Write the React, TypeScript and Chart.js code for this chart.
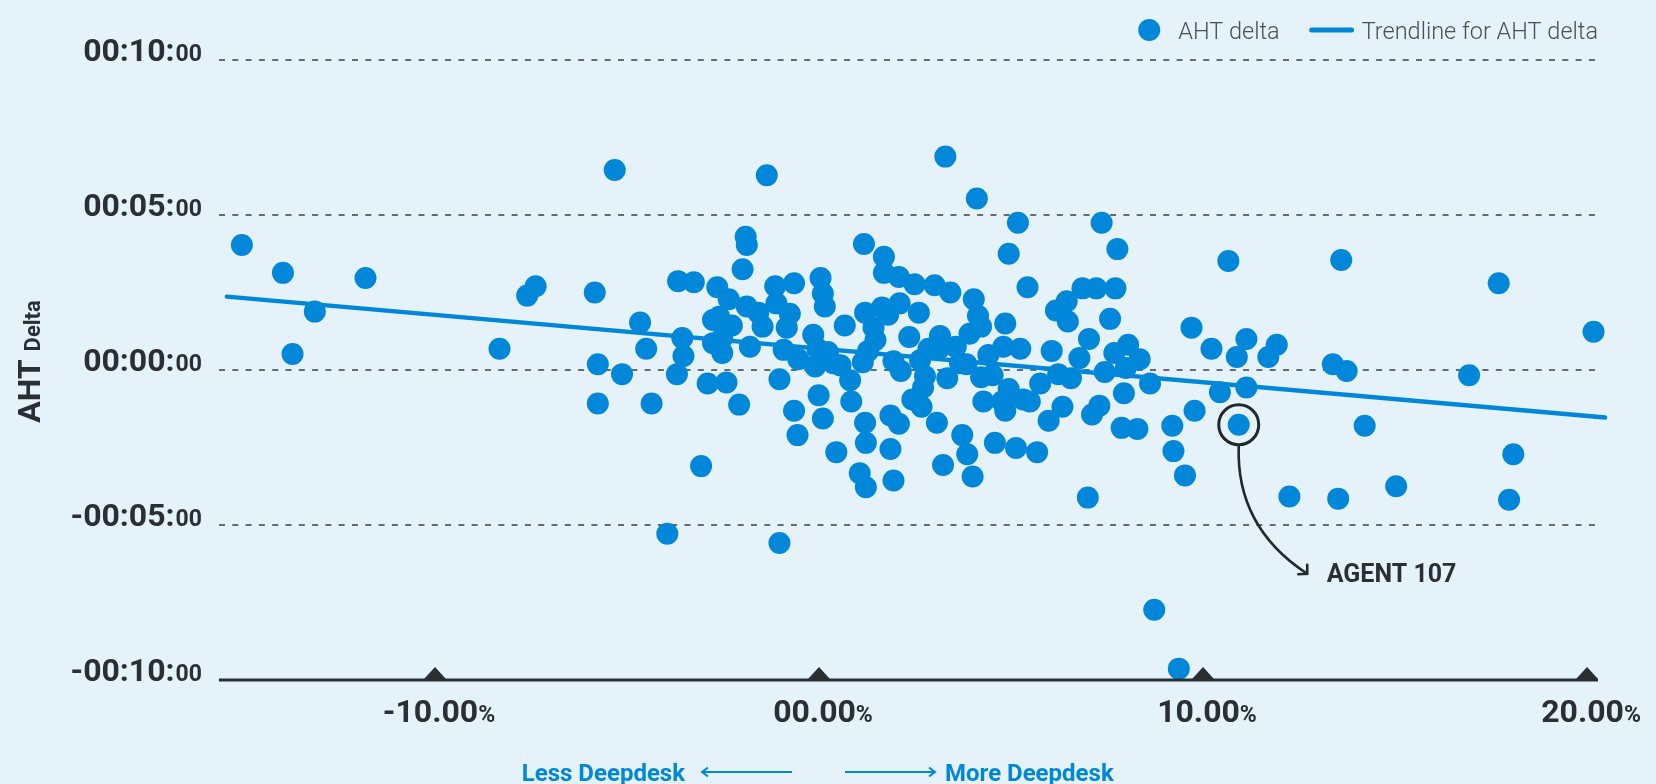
import React, { useEffect, useRef } from "react";
import { Chart, registerables } from "chart.js";

Chart.register(...registerables);

// ---- data (x: Deepdesk usage delta in %, y: AHT delta in seconds) ----
const deltaPct = [
  -15.03, -13.96, -13.71, -13.13, -11.81, -8.32, -7.6, -7.38, -5.84, -5.76,
  -5.76, -5.32, -5.13, -4.66, -4.5, -4.36, -3.95, -3.7, -3.67, -3.56,
  -3.53, -3.26, -3.07, -2.9, -2.76, -2.76, -2.65, -2.6, -2.52, -2.52,
  -2.41, -2.35, -2.27, -2.08, -1.99, -1.91, -1.88, -1.88, -1.8, -1.58,
  -1.47, -1.36, -1.14, -1.11, -1.03, -1.03, -0.92, -0.84, -0.76, -0.65,
  -0.65, -0.56, -0.54, -0.15, -0.04, -0.01, 0.04, 0.1, 0.15, 0.1,
  0.23, 0.45, 0.56, 0.67, 0.84, 1.06, 1.14, 1.17, 1.2, 1.2,
  1.22, 1.22, 1.28, 1.42, 1.47, 1.64, 1.69, 1.69, 1.8, 1.86,
  1.86, 1.94, 1.94, 2.08, 2.08, 2.1, 2.13, 2.35, 2.43, 2.49,
  2.6, 2.63, 2.71, 2.76, 2.85, 3.01, 3.07, 3.12, 3.15, 3.23,
  3.29, 3.34, 3.42, 3.56, 3.73, 3.86, 3.84, 3.92, 4.0, 4.03,
  4.11, 4.14, 4.22, 4.28, 4.41, 4.52, 4.58, 4.77, 4.85, 4.85,
  4.94, 4.94, 5.13, 5.18, 5.24, 5.32, 5.43, 5.68, 5.98, 6.06,
  6.17, 6.23, 6.34, 6.45, 6.48, 6.56, 6.78, 6.86, 7.0, 7.03,
  7.11, 7.22, 7.3, 7.36, 7.44, 7.58, 7.69, 7.72, 7.77, 7.88,
  7.94, 7.99, 8.05, 8.29, 8.35, 8.62, 8.73, 9.2, 9.23, 9.37,
  9.53, 9.7, 9.78, 10.22, 10.44, 10.66, 10.88, 11.13, 11.13, 11.7,
  11.92, 12.25, 13.38, 13.52, 13.6, 13.74, 14.21, 15.03, 16.93, 17.7,
  17.97, 18.08, 20.17,
  0.37, 0.81, -0.1, 2.67, 5.49, 5.76, 4.22, 3.67, 4.8,
];

const ahtDeltaSec = [
  242, 188, 31, 113, 178, 41, 144, 162, 150, 11,
  -65, 387, -8, 92, 41, -65, -317, -8, 172, 62,
  27, 170, -186, -26, 97, 52, 160, 103, 62, 33,
  -24, 137, 86, -67, 195, 258, 242, 123, 45, 111,
  84, 377, 162, 129, -18, -335, 39, 82, 109, 168,
  -79, -126, 21, 68, 41, -49, 178, 148, 123, -94,
  35, -159, 9, 86, -61, -200, 15, 244, 111, -102,
  -141, -227, 37, 82, 58, 121, 219, 188, 107, -88,
  -153, 17, -214, 180, -104, 129, -2, 64, -57, 166,
  111, 19, -34, -12, 41, 164, -102, 41, 66, -184,
  413, -16, 150, 45, -126, -163, 11, 70, -206, 137,
  332, 105, 84, -61, 29, -10, -141, -61, 90, -79,
  225, -37, -151, 285, 41, -57, 160, -159, -98, 37,
  115, -8, -71, 133, 94, -16, 23, 158, -247, 60,
  -86, 158, -69, 285, -4, 99, 33, 158, 234, -112,
  -45, 4, 49, -114, 21, -26, -464, -108, -157, -578,
  -204, 82, -79, 41, -43, 211, 25, -34, 60, 25,
  49, -245, 11, -249, 213, -2, -108, -225, -10, 168,
  -251, -163, 74,
  13, -20, 7, -71, -61, -26, -14, 13, 45,
];

// highlighted agent
const highlightLabel = "AGENT 107";
const highlightPct = 10.93;
const highlightSec = -106;

// trendline end points
const trendPct = [-15.42, 20.47];
const trendSec = [142, -92];

// ticks / labels
const xTickValues = [-10, 0, 10, 20];
const yTickValues = [600, 300, 0, -300, -600];
const seriesLabel = "AHT delta";
const trendLabel = "Trendline for AHT delta";
const yTitleMain = "AHT";
const yTitleSub = "Delta";
const lessLabel = "Less Deepdesk";
const moreLabel = "More Deepdesk";

const BG = "#e5f2fa";
const BLUE = "#0087da";
const INK = "#2b2f33";
const LEGEND_INK = "#4a4f55";
const FONT = "Roboto, 'Noto Sans', sans-serif";

function fmtPct(v: number) {
  const s = Math.abs(v).toFixed(2).padStart(5, "0");
  return (v < 0 ? "-" : "") + s;
}

function fmtTime(sec: number): [string, string] {
  const sign = sec < 0 ? "-" : "";
  const a = Math.abs(sec);
  const m = Math.floor(a / 60);
  const s = a % 60;
  return [`${sign}00:${String(m).padStart(2, "0")}:`, String(s).padStart(2, "0")];
}

const decorPlugin = {
  id: "decor",
  beforeDraw(chart: any) {
    const { ctx, width, height } = chart;
    ctx.save();
    ctx.fillStyle = BG;
    ctx.fillRect(0, 0, width, height);
    ctx.restore();
  },
  beforeDatasetsDraw(chart: any) {
    const { ctx, chartArea, scales } = chart;
    const xs = scales.x;
    const ys = scales.y;
    ctx.save();

    // dashed horizontal grid
    ctx.strokeStyle = "#3a3f44";
    ctx.lineWidth = 1.5;
    ctx.setLineDash([6, 7.3]);
    yTickValues.forEach((v) => {
      if (v <= ys.min) return;
      const py = Math.round(ys.getPixelForValue(v));
      ctx.beginPath();
      ctx.moveTo(chartArea.left, py);
      ctx.lineTo(chartArea.right, py);
      ctx.stroke();
    });
    ctx.setLineDash([]);

    // y tick labels
    ctx.fillStyle = INK;
    ctx.textBaseline = "alphabetic";
    ctx.textAlign = "right";
    const right = chartArea.left - 17;
    yTickValues.forEach((v) => {
      const py = ys.getPixelForValue(v) + 1;
      const [big, small] = fmtTime(v);
      ctx.font = `bold 23px ${FONT}`;
      ctx.fillText(small, right, py);
      const sw = ctx.measureText(small).width;
      ctx.font = `bold 32px ${FONT}`;
      ctx.fillText(big, right - sw - 1, py);
    });

    // x tick labels
    ctx.textAlign = "left";
    xTickValues.forEach((v) => {
      const px = xs.getPixelForValue(v);
      const big = fmtPct(v);
      ctx.font = `bold 32px ${FONT}`;
      const bw = ctx.measureText(big).width;
      ctx.font = `bold 23px ${FONT}`;
      const sw = ctx.measureText("%").width;
      const start = px + 4 - (bw + sw) / 2;
      const by = chartArea.bottom + 42;
      ctx.font = `bold 32px ${FONT}`;
      ctx.fillText(big, start, by);
      ctx.font = `bold 23px ${FONT}`;
      ctx.fillText("%", start + bw, by);
    });

    // y title (rotated)
    ctx.save();
    ctx.translate(chartArea.left - 179, ys.getPixelForValue(0) - 8.5);
    ctx.rotate(-Math.PI / 2);
    ctx.font = `bold 32px ${FONT}`;
    const w1 = ctx.measureText(yTitleMain + " ").width;
    ctx.font = `bold 22px ${FONT}`;
    const w2 = ctx.measureText(yTitleSub).width;
    const st = -(w1 + w2) / 2;
    ctx.font = `bold 32px ${FONT}`;
    ctx.fillText(yTitleMain + " ", st, 0);
    ctx.font = `bold 22px ${FONT}`;
    ctx.fillText(yTitleSub, st + w1, 0);
    ctx.restore();

    ctx.restore();
  },
  afterDatasetsDraw(chart: any) {
    const { ctx, chartArea, scales } = chart;
    const xs = scales.x;
    const ys = scales.y;
    ctx.save();

    // x axis line with triangle markers
    ctx.fillStyle = "#2a2f33";
    const by = chartArea.bottom;
    ctx.fillRect(chartArea.left, by - 1.5, chartArea.right - chartArea.left, 3);
    xTickValues.forEach((v) => {
      const px = xs.getPixelForValue(v);
      ctx.beginPath();
      ctx.moveTo(px - 11, by - 1);
      ctx.lineTo(px, by - 13);
      ctx.lineTo(px + 11, by - 1);
      ctx.closePath();
      ctx.fill();
    });

    // highlight annotation
    const ax = xs.getPixelForValue(highlightPct);
    const ay = ys.getPixelForValue(highlightSec);
    ctx.strokeStyle = "#23282c";
    ctx.lineWidth = 3;
    ctx.beginPath();
    ctx.arc(ax, ay, 20, 0, Math.PI * 2);
    ctx.stroke();
    ctx.lineWidth = 2.6;
    ctx.lineCap = "round";
    ctx.beginPath();
    ctx.moveTo(ax, ay + 21.5);
    ctx.bezierCurveTo(ax - 2, ay + 80, ax + 25, ay + 120, ax + 67, ay + 148);
    ctx.stroke();
    ctx.beginPath();
    ctx.moveTo(ax + 59.5, ay + 149.5);
    ctx.lineTo(ax + 68.5, ay + 149);
    ctx.lineTo(ax + 68.5, ay + 140);
    ctx.stroke();
    ctx.fillStyle = INK;
    ctx.font = `bold 25px ${FONT}`;
    ctx.textAlign = "left";
    ctx.textBaseline = "alphabetic";
    ctx.fillText(highlightLabel, ax + 88, ay + 157);

    ctx.restore();
  },
  afterDraw(chart: any) {
    const { ctx, chartArea, scales } = chart;
    const xs = scales.x;
    ctx.save();

    // legend (right aligned to plot edge)
    ctx.font = `300 23.5px ${FONT}`;
    ctx.textBaseline = "alphabetic";
    ctx.textAlign = "left";
    ctx.fillStyle = LEGEND_INK;
    const tw2 = ctx.measureText(trendLabel).width;
    const tw1 = ctx.measureText(seriesLabel).width;
    const ly = 30;
    const t2x = chartArea.right - tw2;
    const lineR = t2x - 10;
    const lineL = lineR - 40;
    const t1x = lineL - 32 - tw1;
    const dotX = t1x - 29;
    ctx.fillText(trendLabel, t2x, ly + 8.5);
    ctx.fillText(seriesLabel, t1x, ly + 8.5);
    ctx.strokeStyle = BLUE;
    ctx.lineWidth = 5;
    ctx.lineCap = "round";
    ctx.beginPath();
    ctx.moveTo(lineL, ly);
    ctx.lineTo(lineR, ly);
    ctx.stroke();
    ctx.fillStyle = BLUE;
    ctx.beginPath();
    ctx.arc(dotX, ly, 11, 0, Math.PI * 2);
    ctx.fill();

    // footnote under the x axis
    const x0 = xs.getPixelForValue(0);
    const fy = 772;
    ctx.fillStyle = BLUE;
    ctx.strokeStyle = BLUE;
    ctx.lineWidth = 2;
    ctx.lineCap = "butt";
    ctx.font = `bold 24px ${FONT}`;
    ctx.textAlign = "right";
    ctx.fillText(lessLabel, x0 - 134, fy + 8.5);
    ctx.textAlign = "left";
    ctx.fillText(moreLabel, x0 + 126, fy + 8.5);
    // left arrow
    ctx.beginPath();
    ctx.moveTo(x0 - 117, fy);
    ctx.lineTo(x0 - 27, fy);
    ctx.moveTo(x0 - 111, fy - 4.5);
    ctx.lineTo(x0 - 117, fy);
    ctx.lineTo(x0 - 111, fy + 4.5);
    ctx.stroke();
    // right arrow
    ctx.beginPath();
    ctx.moveTo(x0 + 26, fy);
    ctx.lineTo(x0 + 116, fy);
    ctx.moveTo(x0 + 110, fy - 4.5);
    ctx.lineTo(x0 + 116, fy);
    ctx.lineTo(x0 + 110, fy + 4.5);
    ctx.stroke();

    ctx.restore();
  },
};

export default function App() {
  const ref = useRef<HTMLCanvasElement>(null);

  useEffect(() => {
    if (!ref.current) return;
    const points = deltaPct.map((x, i) => ({ x, y: ahtDeltaSec[i] }));
    points.push({ x: highlightPct, y: highlightSec });
    const trend = trendPct.map((x, i) => ({ x, y: trendSec[i] }));

    const chart = new Chart(ref.current, {
      type: "scatter",
      data: {
        datasets: [
          {
            label: seriesLabel,
            data: points,
            backgroundColor: BLUE,
            borderColor: BLUE,
            borderWidth: 0,
            pointRadius: 11,
            pointHoverRadius: 11,
            clip: false,
          } as any,
          {
            label: trendLabel,
            data: trend,
            showLine: true,
            borderColor: BLUE,
            backgroundColor: BLUE,
            borderWidth: 4.5,
            borderCapStyle: "round",
            pointRadius: 0,
            pointHoverRadius: 0,
            clip: false,
          } as any,
        ],
      },
      options: {
        animation: false,
        responsive: false,
        devicePixelRatio: 1,
        layout: { padding: { left: 219, right: 58, top: 60, bottom: 104 } },
        scales: {
          x: { type: "linear", min: -15.625, max: 20.286, display: false },
          y: { type: "linear", min: -600, max: 600, display: false },
        },
        plugins: {
          legend: { display: false },
          tooltip: { enabled: false },
        },
      },
      plugins: [decorPlugin],
    });
    return () => chart.destroy();
  }, []);

  return (
    <div
      style={{
        position: "fixed",
        left: 0,
        top: 0,
        width: 1656,
        height: 784,
        background: BG,
      }}
    >
      <canvas ref={ref} width={1656} height={784} style={{ display: "block" }} />
    </div>
  );
}
